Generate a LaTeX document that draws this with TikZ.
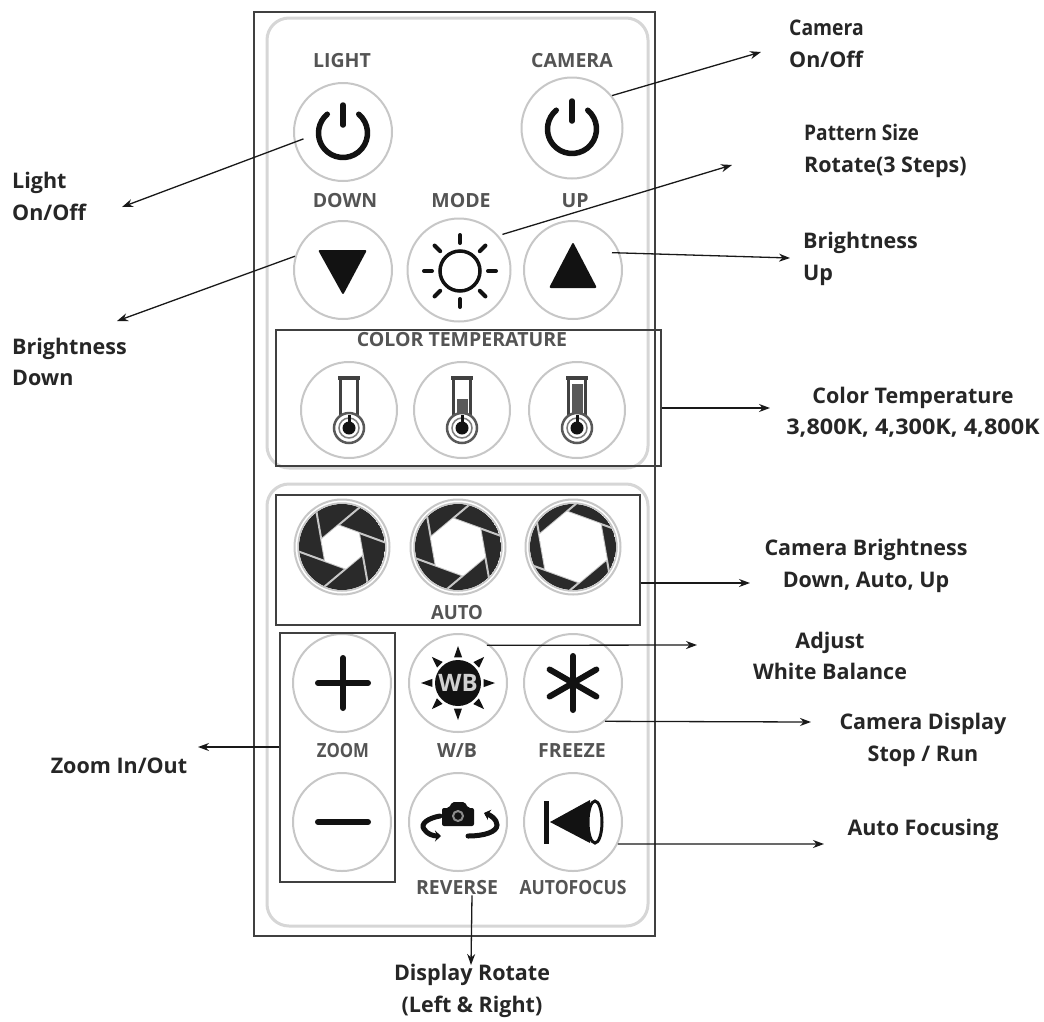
\documentclass[tikz,border=0pt]{standalone}
\usepackage{fontspec}
\setmainfont{Open Sans}
\usetikzlibrary{calc,arrows.meta}
\definecolor{ringgray}{gray}{0.78}
\definecolor{panelgray}{gray}{0.84}
\definecolor{labgray}{gray}{0.33}
\definecolor{icon}{gray}{0.07}
\tikzset{
  x=1pt,y=-1pt,
  btn/.style={circle,draw=ringgray,line width=2pt,minimum size=#1,inner sep=0pt},
  btn/.default=98pt,
  frame/.style={draw=black!75,line width=1.4pt,inner sep=0pt},
  panel/.style={draw=panelgray,line width=3pt,rounded corners=22pt},
  lab/.style={text=labgray,font=\fontsize{19.5}{22}\selectfont\bfseries,inner sep=0pt},
  call/.style={text=black!85,font=\fontsize{21.5}{31.5}\selectfont\bfseries,inner sep=0pt,align=center},
  callL/.style={call,align=left,anchor=west},
  arr/.style={draw=black!90,line width=1.3pt,-{Stealth[length=11pt,width=8pt]}},
  ico/.style={draw=icon,line width=5.5pt,line cap=round},
}
\newcommand{\powericon}[2]{%
  \begin{scope}[shift={(#1,#2)}]
    \draw[ico] (-50:24.5) arc[start angle=-50,end angle=230,radius=24.5];
    \draw[ico] (0,-28) -- (0,-8);
  \end{scope}}
\newcommand{\thermo}[3]{%
  \begin{scope}[shift={(#1,#2)}]
    \draw[draw=icon!80,line width=2.5pt] (-8.5,-30) -- (-8.5,10) (8.5,-30) -- (8.5,10);
    \draw[draw=icon!80,line width=3.5pt] (-11,-32) -- (11,-32);
    \fill[icon!70] (-5.5,#3) rectangle (5.5,12);
    \draw[draw=icon!70,line width=2.5pt,fill=white] (0,18) circle[radius=15];
    \draw[draw=icon!55,line width=1.5pt,fill=white] (0,18) circle[radius=10];
    \fill[icon] (0,18) circle[radius=6.5];
    \fill[icon] (-1.5,5) rectangle (1.5,14);
  \end{scope}}
\newcommand{\shutter}[3]{%
  \begin{scope}[shift={(#1,#2)}]
    \begin{scope}
      \clip (0,0) circle[radius=43];
      \fill[icon!90] (0,0) circle[radius=43];
      \foreach \a in {0,60,...,300}{
        \draw[draw=ringgray,line width=2pt,rotate=\a-20] (#3,0) -- ++(120:70);
      }
      \fill[white,rotate=-20] (0:#3) -- (60:#3) -- (120:#3) -- (180:#3) -- (240:#3) -- (300:#3) -- cycle;
    \end{scope}
    \draw[draw=ringgray,line width=2pt] (0,0) circle[radius=47.5];
    \draw[draw=ringgray,line width=1.5pt] (0,0) circle[radius=44];
  \end{scope}}
\begin{document}
\begin{tikzpicture}
\useasboundingbox (0,0) rectangle (1044,1021);
\fill[white] (0,0) rectangle (1044,1021);
% panels
\draw[panel] (267,18) rectangle (648,468);
\draw[panel] (267,484) rectangle (648,926);
\node[frame,minimum width=401pt,minimum height=924pt] (outer) at (454.5,474) {};
% buttons
\node[btn] (light) at (343,132) {};
\node[btn=101pt] (camera) at (572,128) {};
\node[btn] (down) at (343,270) {};
\node[btn=103pt] (mode) at (459,270) {};
\node[btn] (up) at (573,270) {};
\node[btn=96pt] (t1) at (349,410) {};
\node[btn=96pt] (t2) at (462,410) {};
\node[btn=96pt] (t3) at (577,410) {};
\node[btn] (plus) at (342,683) {};
\node[btn] (wb) at (458,683) {};
\node[btn] (freeze) at (573,683) {};
\node[btn] (minus) at (342,822) {};
\node[btn] (rev) at (458,822) {};
\node[btn] (af) at (573,822) {};
% icons
\powericon{343}{133}
\powericon{572}{129}
\fill[icon,rounded corners=2pt] (318,250) -- (367,250) -- (343,295) -- cycle;
\fill[icon,rounded corners=2pt] (573,242) -- (597,288) -- (549,288) -- cycle;
\draw[icon,line width=3.5pt] (460,271) circle[radius=20];
\foreach \a in {0,45,...,315}{\draw[ico,line width=4pt] (460,271) ++(\a:28) -- ++(\a:8);}
\thermo{349}{410}{10}
\thermo{462}{410}{-11}
\thermo{577}{410}{-26}
\shutter{342}{547}{22}
\shutter{458}{547}{29}
\shutter{573}{547}{36}
% plus minus
\draw[ico,line width=6pt] (318,683) -- (368,683) (343,658) -- (343,708);
\draw[ico,line width=6pt] (318,822) -- (368,822);
% wb
\fill[icon] (458,683) circle[radius=23];
\foreach \a in {0,45,...,315}{\fill[icon] (458,683) ++(\a:37) -- ++(\a+160:12) -- ++(\a-90:8) -- cycle;}
\node[text=black!18,font=\fontsize{24}{26}\selectfont\bfseries,inner sep=0pt] (wbtext) at (458,683) {WB};
% freeze
\foreach \a in {90,150,210}{\draw[ico,line width=6pt] (573,683) ++(\a:27) -- ++(\a:-54);}
% reverse
\fill[icon,rounded corners=2pt] (449,808) -- (452,802) -- (465,802) -- (468,808) -- (474,808) -- (474,826) -- (442,826) -- (442,808) -- cycle;
\draw[black!45,line width=2pt] (458,816) circle[radius=5];
\draw[ico,line width=5pt,-{Stealth[length=6pt,width=11pt]}] (440,816) .. controls (428,818) and (420,824) .. (424,829) .. controls (427,834) and (433,836) .. (441,836);
\draw[ico,line width=5pt,-{Stealth[length=6pt,width=11pt]}] (468,836) .. controls (484,836) and (497,832) .. (497,825) .. controls (497,819) and (490,815) .. (484,813);
% autofocus
\draw[icon,line width=5pt] (546,801) -- (546,844);
\fill[icon] (550,822) -- (590,800) -- (590,843) -- cycle;
\draw[icon,line width=3pt,fill=white] (595,822) ellipse[x radius=7,y radius=21];
% button labels
\node[lab] (tlight) at (342,61) {LIGHT};
\node[lab] (tcamera) at (572,61) {CAMERA};
\node[lab] (tdown) at (345,201) {DOWN};
\node[lab] (tmode) at (461,201) {MODE};
\node[lab] (tup) at (575,201) {UP};
\node[lab] (ttemp) at (462,340) {COLOR TEMPERATURE};
\node[lab,xscale=.95] (tauto) at (457,613) {AUTO};
\node[lab,xscale=.86] (tzoom) at (343,751) {ZOOM};
\node[lab] (twb) at (457,751) {W/B};
\node[lab] (tfreeze) at (572,751) {FREEZE};
\node[lab] (trev) at (457,888) {REVERSE};
\node[lab,xscale=.9] (taf) at (573,888) {AUTOFOCUS};
% boxes
\node[frame,minimum width=385pt,minimum height=136pt] (boxtemp) at (468.5,398) {};
\node[frame,minimum width=364pt,minimum height=130pt] (boxcam) at (458,560) {};
\node[frame,minimum width=115pt,minimum height=249pt] (boxzoom) at (337.5,757.5) {};
% callouts
\node[callL] (clight) at (12,196.5) {Light\\On/Off};
\node[callL] (ccamera) at (789,44) {\scalebox{.9}[1]{Camera}\\On/Off};
\node[callL] (cpat) at (804,151) {\scalebox{.89}[1]{Pattern Size}\\Rotate(3 Steps)};
\node[callL] (cdown) at (12,362) {Brightness\\Down};
\node[callL] (cup) at (803,259) {Brightness\\Up};
\node[call] (ctemp) at (913,412) {Color Temperature\\\scalebox{1.09}[1]{3,800K, 4,300K, 4,800K}};
\node[call] (ccam) at (866,566) {Camera Brightness\\Down, Auto, Up};
\node[call] (cwb) at (830,656) {Adjust\\White Balance};
\node[call] (cfre) at (923,740) {Camera Display\\Stop / Run};
\node[call] (caf) at (923,830) {Auto Focusing};
\node[call] (czoom) at (119,766) {Zoom In/Out};
\node[call] (crev) at (472,991) {Display Rotate\\(Left \& Right)};
% free arrow ends
\coordinate (elight) at (122,207);
\coordinate (ecamera) at (761,52);
\coordinate (epat) at (732,165);
\coordinate (edown) at (117,321);
\coordinate (eup) at (790,258);
\coordinate (etemp) at (770,408);
\coordinate (ecam) at (750,583);
\coordinate (ewb) at (697,645);
\coordinate (efre) at (811,722);
\coordinate (eaf) at (824,844);
\coordinate (ezoom) at (198,747);
\coordinate (erev) at (471,965);
% connectors
\draw[arr,shorten <=-10pt] (light.192) -- (elight);
\draw[arr] (camera.39) -- (ecamera);
\draw[arr,shorten <=4pt] (mode.41) -- (epat);
\draw[arr] (down.164) -- (edown);
\draw[arr,shorten <=-8pt] (up.20) -- (eup);
\draw[arr] (boxtemp.east |- etemp) -- (etemp);
\draw[arr] (boxcam.east |- ecam) -- (ecam);
\draw[arr,shorten <=-4pt] (wb.49) -- (ewb);
\draw[arr] (freeze.-50) -- (efre);
\draw[arr] (af.-26) -- (eaf);
\draw[arr] (boxzoom.west |- ezoom) -- (ezoom);
\draw[arr] (trev.south) ++(15,0) -- (erev);
\end{tikzpicture}
\end{document}
